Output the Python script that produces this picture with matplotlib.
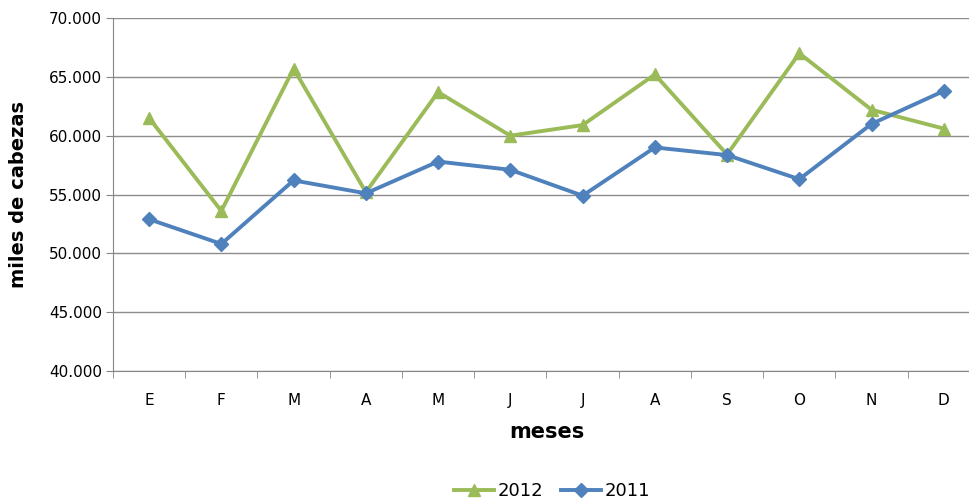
import matplotlib
matplotlib.use("Agg")
import matplotlib.pyplot as plt
from matplotlib.ticker import FuncFormatter

meses = ["E", "F", "M", "A", "M", "J", "J", "A", "S", "O", "N", "D"]
v2012 = [61500, 53600, 65700, 55200, 63700, 60000, 60900, 65200, 58400, 67000, 62200, 60600]
v2011 = [52900, 50800, 56200, 55100, 57800, 57100, 54900, 59000, 58350, 56300, 61000, 63800]

plt.rcParams['font.family'] = ['DejaVu Sans']

green = '#9BBB59'
blue = '#4F81BD'

fig = plt.figure(figsize=(9.69, 4.99), dpi=100)
ax = fig.add_axes([0.1166, 0.2565, 0.8947, 0.7074])

x = list(range(len(meses)))
ax.plot(x, v2012, color=green, lw=2.8, marker='^', markersize=9, label='2012')
ax.plot(x, v2011, color=blue, lw=2.8, marker='D', markersize=7, label='2011')

ax.set_xlim(-0.5, len(meses) - 0.5)
ax.set_ylim(40000, 70000)
ax.set_yticks(range(40000, 70001, 5000))
ax.yaxis.set_major_formatter(FuncFormatter(lambda v, p: f"{int(v):,}".replace(",", ".")))
ax.set_xticks(x)
ax.set_xticklabels(meses)
ax.set_xticks([i + 0.5 for i in range(-1, len(meses))], minor=True)
ax.tick_params(axis='x', which='major', length=0, pad=16, labelsize=11)
ax.tick_params(axis='x', which='minor', length=5, color='#868686', direction='out')
ax.tick_params(axis='y', length=5, color='#868686', labelsize=11, pad=3)

ax.grid(axis='y', color='#8c8c8c', lw=1)
ax.set_axisbelow(True)
for s in ['top', 'right']:
    ax.spines[s].set_visible(False)
ax.spines['left'].set_color('#868686')
ax.spines['bottom'].set_color('#868686')

ax.set_ylabel("miles de cabezas", fontsize=14, fontweight='bold', labelpad=15)
ax.set_xlabel("meses", fontsize=15, fontweight='bold', labelpad=10)

fig.legend(loc='lower center', bbox_to_anchor=(0.57, -0.035), ncol=2, frameon=False,
           fontsize=13, handlelength=2.2, columnspacing=1.0, handletextpad=0.2)

fig.savefig("out.png", dpi=100)
